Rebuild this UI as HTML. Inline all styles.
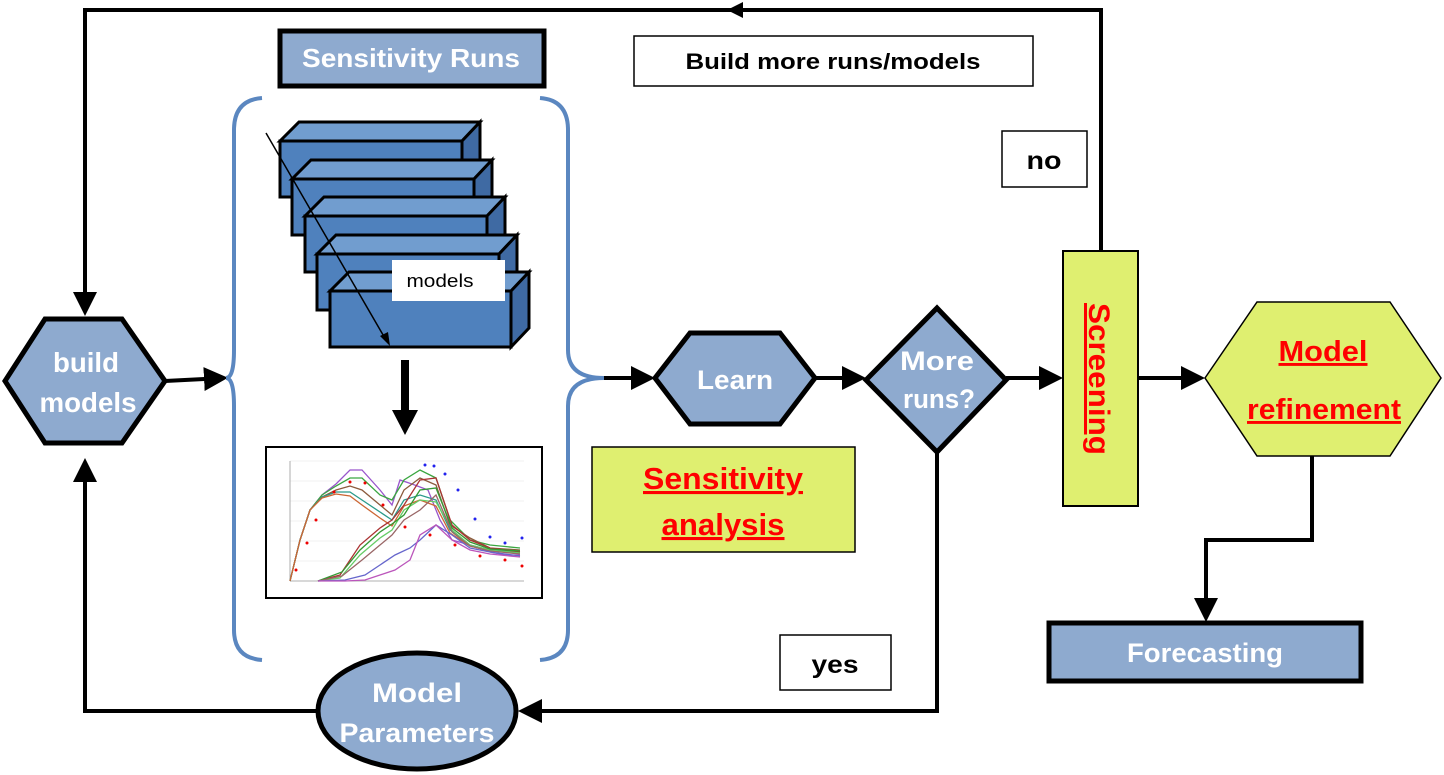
<!DOCTYPE html>
<html><head><meta charset="utf-8"><style>
html,body{margin:0;padding:0;background:#fff;}
svg{display:block;}
.w{font-family:"Liberation Sans",sans-serif;font-weight:bold;fill:#fff;}
.b{font-family:"Liberation Sans",sans-serif;font-weight:bold;fill:#000;}
.r{font-family:"Liberation Sans",sans-serif;font-weight:bold;fill:#f00;text-decoration:underline;}
</style></head><body>
<svg width="1444" height="775" viewBox="0 0 1444 775" xmlns="http://www.w3.org/2000/svg">
<defs>
<marker id="a" markerWidth="6" markerHeight="6" refX="5" refY="3" orient="auto" markerUnits="strokeWidth"><path d="M0,0 L6,3 L0,6 z" fill="#000"/></marker>
</defs>
<polyline points="1101,250 1101,10 85,10 85,312" fill="none" stroke="#000" stroke-width="4" marker-end="url(#a)"/>
<path d="M727,10 L743,2 L743,18 z" fill="#000"/>
<polyline points="937,452 937,711 522,711" fill="none" stroke="#000" stroke-width="4" marker-end="url(#a)"/>
<polyline points="317,711 85,711 85,462" fill="none" stroke="#000" stroke-width="4" marker-end="url(#a)"/>
<polyline points="1312,456 1312,540 1206,540 1206,618" fill="none" stroke="#000" stroke-width="4" marker-end="url(#a)"/>
<line x1="165" y1="381" x2="224" y2="378" stroke="#000" stroke-width="4" marker-end="url(#a)"/>
<line x1="603" y1="378" x2="651" y2="378" stroke="#000" stroke-width="4" marker-end="url(#a)"/>
<line x1="815" y1="378" x2="862" y2="378" stroke="#000" stroke-width="4" marker-end="url(#a)"/>
<line x1="1006" y1="378" x2="1059" y2="378" stroke="#000" stroke-width="4" marker-end="url(#a)"/>
<line x1="1138" y1="378" x2="1201" y2="378" stroke="#000" stroke-width="4" marker-end="url(#a)"/>
<path d="M262,98 Q234,100 234,130 L234,350 Q234,378 226,378 Q234,378 234,406 L234,630 Q234,658 262,660" fill="none" stroke="#5b87c0" stroke-width="4"/>
<path d="M540,98 Q568,100 568,130 L568,350 Q568,378 604,378 Q568,378 568,406 L568,630 Q568,658 540,660" fill="none" stroke="#5b87c0" stroke-width="4"/>
<polygon points="5,381 45,319 122,319 165,381 122,443 45,443" fill="#8eaacf" stroke="#000" stroke-width="5"/>
<text class="w" x="86" y="372" font-size="28" text-anchor="middle" textLength="66" lengthAdjust="spacingAndGlyphs">build</text>
<text class="w" x="88" y="412" font-size="28" text-anchor="middle" textLength="97" lengthAdjust="spacingAndGlyphs">models</text>
<rect x="280" y="31" width="264" height="55" fill="#8eaacf" stroke="#000" stroke-width="5"/>
<text class="w" x="411" y="67" font-size="26" text-anchor="middle" textLength="218" lengthAdjust="spacingAndGlyphs">Sensitivity Runs</text>
<rect x="634" y="36" width="399" height="50" fill="#fff" stroke="#000" stroke-width="1.5"/>
<text class="b" x="833" y="69" font-size="22" text-anchor="middle" textLength="295" lengthAdjust="spacingAndGlyphs">Build more runs/models</text>
<rect x="1002" y="131" width="85" height="56" fill="#fff" stroke="#000" stroke-width="1.5"/>
<text class="b" x="1044" y="169" font-size="25" text-anchor="middle" textLength="35" lengthAdjust="spacingAndGlyphs">no</text>
<g stroke="#000" stroke-width="3" stroke-linejoin="miter">
<g><polygon points="280,141 299,122 480,122 462,141" fill="#719dcf"/><polygon points="462,141 480,122 480,179 462,197" fill="#3f6aa3"/><rect x="280" y="141" width="182" height="56" fill="#4f81bd"/></g>
<g><polygon points="292,179 311,160 492,160 474,179" fill="#719dcf"/><polygon points="474,179 492,160 492,216 474,235" fill="#3f6aa3"/><rect x="292" y="179" width="182" height="56" fill="#4f81bd"/></g>
<g><polygon points="305,216 324,197 505,197 487,216" fill="#719dcf"/><polygon points="487,216 505,197 505,253 487,272" fill="#3f6aa3"/><rect x="305" y="216" width="182" height="56" fill="#4f81bd"/></g>
<g><polygon points="317,254 336,235 517,235 499,254" fill="#719dcf"/><polygon points="499,254 517,235 517,291 499,310" fill="#3f6aa3"/><rect x="317" y="254" width="182" height="56" fill="#4f81bd"/></g>
<g><polygon points="330,291 349,272 529,272 511,291" fill="#719dcf"/><polygon points="511,291 529,272 529,328 511,347" fill="#3f6aa3"/><rect x="330" y="291" width="181" height="56" fill="#4f81bd"/></g>
</g>
<rect x="392" y="260" width="113" height="41" fill="#fff"/>
<text x="440" y="287" font-family="Liberation Sans,sans-serif" font-size="18" text-anchor="middle" textLength="67" lengthAdjust="spacingAndGlyphs">models</text>
<line x1="266" y1="133" x2="386" y2="340" stroke="#000" stroke-width="1.5"/>
<path d="M390,346 L380,336 L388,332 z" fill="#000"/>
<line x1="405" y1="360" x2="405" y2="412" stroke="#000" stroke-width="8"/>
<path d="M392,410 L418,410 L405,435 z" fill="#000"/>
<rect x="266" y="447" width="276" height="151" fill="#fff" stroke="#000" stroke-width="2"/>
<g stroke="#e6e6e6" stroke-width="0.6">
<line x1="290" y1="461" x2="524" y2="461"/><line x1="290" y1="481" x2="524" y2="481"/><line x1="290" y1="501" x2="524" y2="501"/><line x1="290" y1="521" x2="524" y2="521"/><line x1="290" y1="541" x2="524" y2="541"/><line x1="290" y1="561" x2="524" y2="561"/>
</g>
<line x1="290" y1="461" x2="290" y2="581" stroke="#999" stroke-width="0.8"/>
<line x1="290" y1="581" x2="524" y2="581" stroke="#999" stroke-width="0.8"/>
<g fill="none" stroke-width="1.3">
<polyline points="290,581 300,540 310,510 322,495 336,484 350,470 362,470 380,490 392,505 400,480 412,484 428,490 440,520 452,540 470,545 490,552 505,555 520,555" stroke="#9955cc"/>
<polyline points="290,581 300,540 310,510 322,495 336,486 350,478 362,478 380,495 392,500 404,480 420,470 436,478 450,520 470,540 490,545 520,548" stroke="#3aa640"/>
<polyline points="290,581 300,540 310,510 322,497 336,490 350,486 362,490 380,505 392,515 404,490 420,478 436,485 450,525 470,538 490,548 520,550" stroke="#8b5a3c"/>
<polyline points="290,581 300,540 310,510 322,497 336,492 350,492 362,500 380,512 392,520 404,500 420,495 436,500 450,530 470,545 490,550 520,552" stroke="#2a9a8a"/>
<polyline points="290,581 300,540 310,510 322,498 336,494 350,496 362,505 380,518 392,526 404,506 420,500 436,506 450,533 470,546 490,551 520,553" stroke="#c63"/>
<polyline points="318,581 340,575 360,545 380,528 392,520 404,505 420,480 436,478 452,525 470,540 490,548 520,552" stroke="#a33"/>
<polyline points="318,581 340,578 360,555 380,538 392,530 404,510 420,500 436,502 452,530 470,545 490,550 520,553" stroke="#6c6"/>
<polyline points="318,581 342,572 360,550 380,532 392,524 404,515 420,490 436,488 452,528 470,542 490,549 520,551" stroke="#393"/>
<polyline points="318,581 342,576 362,560 380,545 392,535 404,520 420,510 436,495 452,532 470,546 490,551 520,554" stroke="#966"/>
<polyline points="318,581 345,580 365,575 380,565 395,555 410,548 420,540 436,525 452,535 470,548 490,552 520,556" stroke="#66c"/>
<polyline points="318,581 345,581 365,580 380,575 395,570 410,560 420,535 436,525 452,540 470,550 490,554 520,557" stroke="#b5b"/>
</g>
<g fill="#e00"><circle cx="296" cy="570" r="1.5"/><circle cx="307" cy="543" r="1.5"/><circle cx="316" cy="520" r="1.5"/><circle cx="334" cy="492" r="1.5"/><circle cx="350" cy="482" r="1.5"/><circle cx="365" cy="483" r="1.5"/><circle cx="383" cy="505" r="1.5"/><circle cx="405" cy="527" r="1.5"/><circle cx="430" cy="535" r="1.5"/><circle cx="455" cy="545" r="1.5"/><circle cx="480" cy="556" r="1.5"/><circle cx="505" cy="560" r="1.5"/><circle cx="522" cy="566" r="1.5"/></g>
<g fill="#22e"><circle cx="425" cy="465" r="1.5"/><circle cx="434" cy="466" r="1.5"/><circle cx="445" cy="474" r="1.5"/><circle cx="458" cy="490" r="1.5"/><circle cx="475" cy="519" r="1.5"/><circle cx="490" cy="537" r="1.5"/><circle cx="505" cy="543" r="1.5"/><circle cx="522" cy="538" r="1.5"/></g>
<polygon points="655,378 690,333 780,333 815,378 780,424 690,424" fill="#8eaacf" stroke="#000" stroke-width="5"/>
<text class="w" x="735" y="389" font-size="27" text-anchor="middle" textLength="76" lengthAdjust="spacingAndGlyphs">Learn</text>
<rect x="592" y="447" width="263" height="105" fill="#dfef70" stroke="#000" stroke-width="1.5"/>
<text class="r" x="723" y="489" font-size="31" text-anchor="middle" textLength="160" lengthAdjust="spacingAndGlyphs">Sensitivity</text>
<text class="r" x="723" y="535" font-size="31" text-anchor="middle" textLength="123" lengthAdjust="spacingAndGlyphs">analysis</text>
<polygon points="937,308 1006,380 937,452 866,380" fill="#8eaacf" stroke="#000" stroke-width="5"/>
<text class="w" x="937" y="370" font-size="27" text-anchor="middle" textLength="74" lengthAdjust="spacingAndGlyphs">More</text>
<text class="w" x="939" y="408" font-size="27" text-anchor="middle" textLength="72" lengthAdjust="spacingAndGlyphs">runs?</text>
<rect x="1063" y="251" width="75" height="255" fill="#dfef70" stroke="#000" stroke-width="2"/>
<text class="r" transform="translate(1089,303) rotate(90)" font-size="30" textLength="152" lengthAdjust="spacingAndGlyphs">Screening</text>
<polygon points="1205,378 1257,302 1390,302 1441,378 1390,456 1257,456" fill="#dfef70" stroke="#000" stroke-width="1.5"/>
<text class="r" x="1323" y="361" font-size="29" text-anchor="middle" textLength="89" lengthAdjust="spacingAndGlyphs">Model</text>
<text class="r" x="1324" y="419" font-size="29" text-anchor="middle" textLength="154" lengthAdjust="spacingAndGlyphs">refinement</text>
<rect x="1049" y="623" width="312" height="58" fill="#8eaacf" stroke="#000" stroke-width="5"/>
<text class="w" x="1205" y="662" font-size="27" text-anchor="middle" textLength="156" lengthAdjust="spacingAndGlyphs">Forecasting</text>
<rect x="780" y="635" width="111" height="55" fill="#fff" stroke="#000" stroke-width="1.5"/>
<text class="b" x="835" y="673" font-size="25" text-anchor="middle" textLength="47" lengthAdjust="spacingAndGlyphs">yes</text>
<ellipse cx="417" cy="711" rx="99" ry="58" fill="#8eaacf" stroke="#000" stroke-width="5"/>
<text class="w" x="417" y="702" font-size="27" text-anchor="middle" textLength="90" lengthAdjust="spacingAndGlyphs">Model</text>
<text class="w" x="417" y="742" font-size="27" text-anchor="middle" textLength="155" lengthAdjust="spacingAndGlyphs">Parameters</text>
</svg>
</body></html>
